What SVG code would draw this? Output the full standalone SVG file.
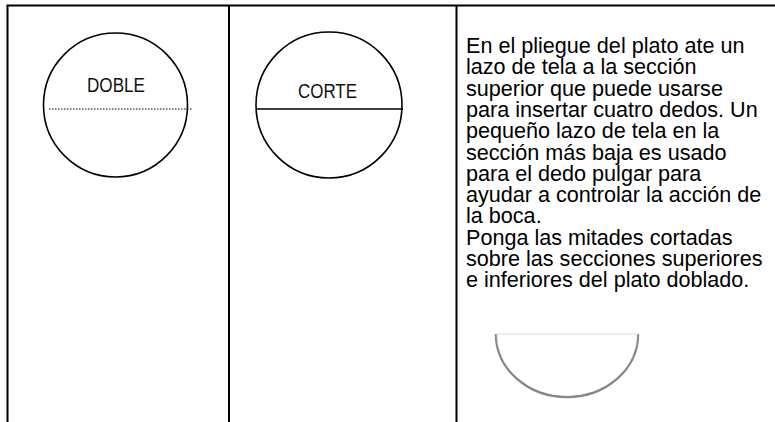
<svg xmlns="http://www.w3.org/2000/svg" width="775" height="422" viewBox="0 0 775 422">
<style>
.rule{stroke:#000;stroke-width:2;fill:none}
.circ{stroke:#000;stroke-width:1.6;fill:none}
.lbl{font-family:"Liberation Sans",Arial,sans-serif;font-size:20px;fill:#111;text-anchor:middle}
.body{font-family:"Liberation Sans",Arial,sans-serif;font-size:21.6px;fill:#000}
</style>
<rect width="775" height="422" fill="#fff"/>
<g id="table">
<line class="rule" x1="6.5" y1="5.5" x2="775" y2="5.5"/>
<line class="rule" x1="7.5" y1="5" x2="7.5" y2="422"/>
<line class="rule" x1="229" y1="5" x2="229" y2="422"/>
<line class="rule" x1="456.5" y1="5" x2="456.5" y2="422"/>
</g>
<g id="doble">
<circle class="circ" cx="115.5" cy="105" r="72"/>
<line x1="49" y1="109" x2="193" y2="109" stroke="#000" stroke-width="1.2" stroke-dasharray="1.5,1.5"/>
<text class="lbl" x="116" y="92" textLength="58" lengthAdjust="spacingAndGlyphs">DOBLE</text>
</g>
<g id="corte">
<circle class="circ" cx="329" cy="105" r="73"/>
<line x1="257" y1="109" x2="403" y2="109" stroke="#000" stroke-width="1.6"/>
<text class="lbl" x="327.5" y="98" textLength="59" lengthAdjust="spacingAndGlyphs">CORTE</text>
</g>
<g id="texto">
<text class="body">
<tspan x="466" y="53">En el pliegue del plato ate un</tspan>
<tspan x="466" y="74.3">lazo de tela a la sección</tspan>
<tspan x="466" y="95.6">superior que puede usarse</tspan>
<tspan x="466" y="116.9">para insertar cuatro dedos. Un</tspan>
<tspan x="466" y="138.2">pequeño lazo de tela en la</tspan>
<tspan x="466" y="159.5">sección más baja es usado</tspan>
<tspan x="466" y="180.8">para el dedo pulgar para</tspan>
<tspan x="466" y="202.1">ayudar a controlar la acción de</tspan>
<tspan x="466" y="223.4">la boca.</tspan>
<tspan x="466" y="244.7">Ponga las mitades cortadas</tspan>
<tspan x="466" y="266">sobre las secciones superiores</tspan>
<tspan x="466" y="287.3">e inferiores del plato doblado.</tspan>
</text>
</g>
<g id="media-luna">
<line x1="496" y1="334" x2="638" y2="334" stroke="#ddd" stroke-width="1"/>
<path d="M496,334 A71,63 0 0 0 638,334" fill="none" stroke="#888" stroke-width="2.5"/>
<path d="M497,334 A69.5,61 0 0 0 637,334" fill="none" stroke="#fff" stroke-width="0.8"/>
</g>
</svg>
